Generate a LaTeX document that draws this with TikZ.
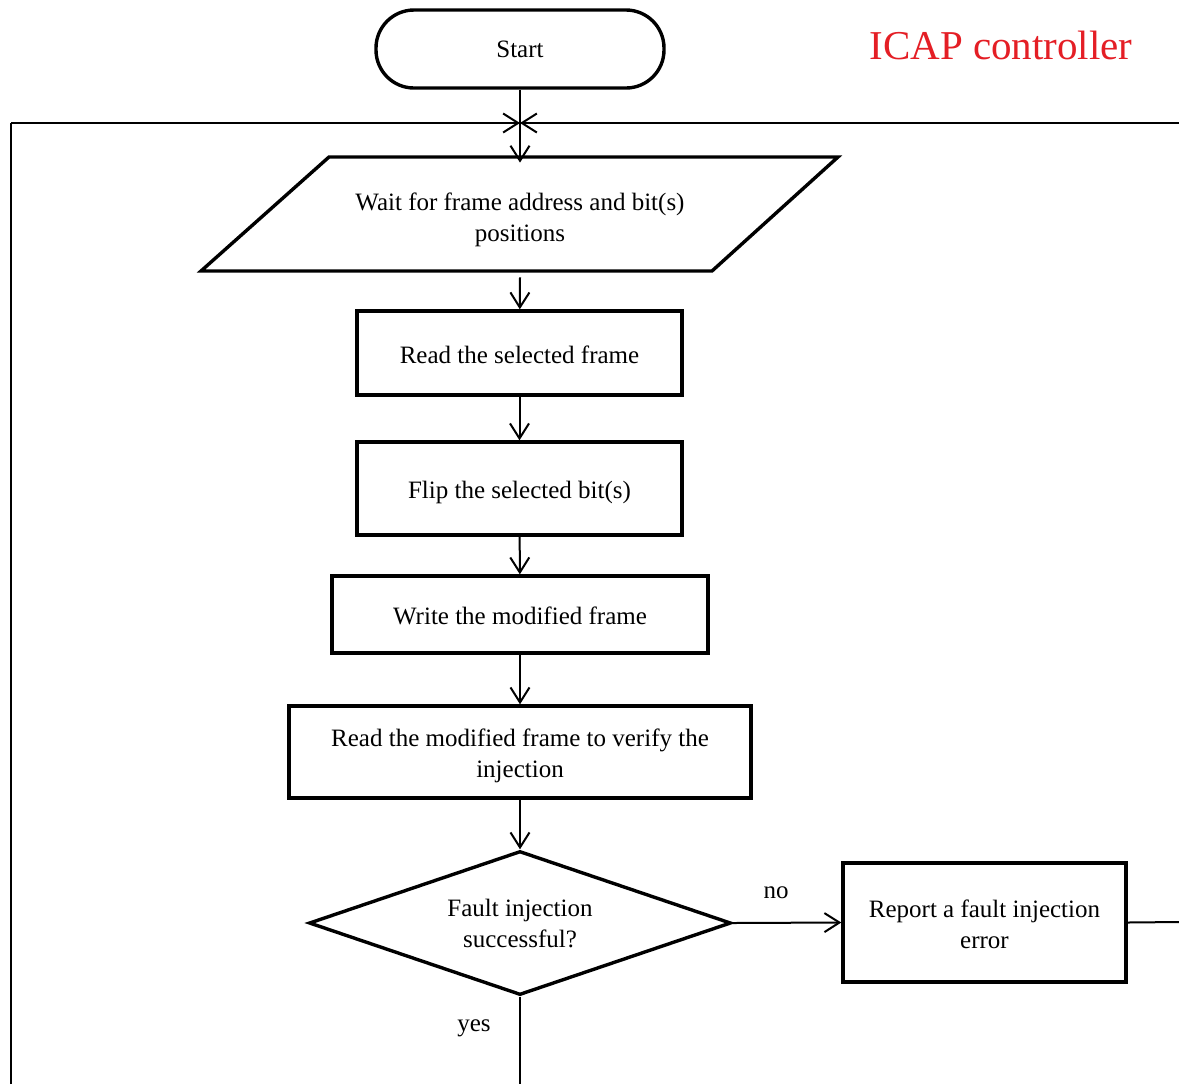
\documentclass[tikz,border=0pt]{standalone}
\usepackage{fontspec}
\setmainfont{Liberation Serif}
\usetikzlibrary{arrows.meta,shapes.geometric}
\definecolor{icapred}{RGB}{228,30,37}
\tikzset{
  box/.style={draw, line width=1.7pt, inner sep=0pt, align=center,
    font=\fontsize{12.5}{15.5}\selectfont},
  oneline/.style={text height=11pt, text depth=0.6pt},
  terminal/.style={box, rounded corners=19pt},
  decision/.style={box, diamond, aspect=2.93},
  flow/.style={line width=1pt, -{Straight Barb[length=7.5pt,width=9.5pt]}},
  plainline/.style={line width=1pt},
  label/.style={font=\fontsize{12.5}{15.5}\selectfont, inner sep=0pt}
}
\begin{document}
\begin{tikzpicture}[x=0.5pt,y=-0.5pt]
\useasboundingbox (0,0) rectangle (1179,1084);

% title
\node[font=\fontsize{20.5}{24}\selectfont, text=icapred] (title) at (1001,45) {ICAP controller};

% flow steps
\node[terminal, minimum width=144pt, minimum height=39pt] (start) at (520,49) {Start};
\node[inner sep=0pt, minimum width=255pt, minimum height=57pt, align=center,
      font=\fontsize{12.5}{15.5}\selectfont] (wait) at (520,220)
      {Wait for frame address and bit(s)\\positions};
\draw[line width=1.7pt, line join=miter]
  (329,157) -- (838,157) -- (712,271) -- (201,271) -- cycle;
\node[box, oneline, minimum width=162.5pt, minimum height=42pt] (readsel) at (519.5,353) {Read the selected frame};
\node[box, oneline, minimum width=162.5pt, minimum height=46.5pt] (flip) at (519.5,488.5) {Flip the selected bit(s)};
\node[box, oneline, minimum width=188pt, minimum height=38.5pt] (write) at (520,614.5) {Write the modified frame};
\node[box, minimum width=231pt, minimum height=46pt] (verify) at (520,752) {\rule{0pt}{12.6pt}Read the modified frame to verify the\\injection};
\node[decision, minimum width=211pt, minimum height=72pt] (ok) at (520,923) {Fault injection\\successful?};
\node[box, minimum width=141.5pt, minimum height=59.5pt] (report) at (984.5,922.5) {\rule{0pt}{10.8pt}Report a fault injection\\error};

% loop-back frame
\coordinate (bottomleft) at (11,1084);
\coordinate (topleft) at (11,123);
\coordinate (join) at (520,123);
\coordinate (topright) at (1179,123);
\coordinate (reportout) at (1179,922);
\coordinate (yesout) at (520,1084);

\draw[plainline] (bottomleft) -- (topleft);
\draw[flow] (topleft) -- (join);
\draw[flow] (topright) -- (join);

% connectors
\draw[flow] (start) -- (wait.north);
\draw[flow] (wait.south) -- (readsel);
\draw[flow] (readsel) -- (flip);
\draw[flow] (flip) -- (write);
\draw[flow] (write) -- (verify);
\draw[flow] (verify) -- (ok);
\draw[flow] (ok.east) -- (report.west);
\draw[plainline] (report.east) -- (reportout);
\draw[plainline] (ok.south) -- (yesout);

\node[label] (nolbl) at (776,893) {no};
\node[label] (yeslbl) at (474,1028) {yes};
\end{tikzpicture}
\end{document}
